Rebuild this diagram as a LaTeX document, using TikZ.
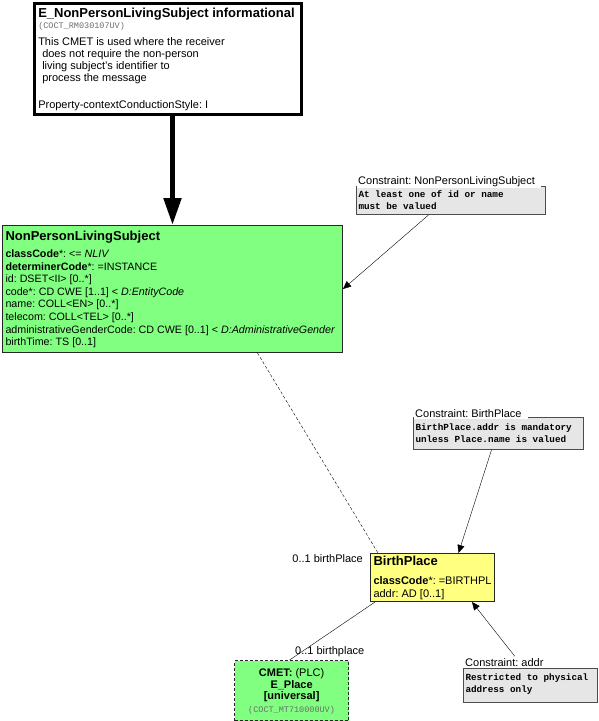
\documentclass[tikz,border=0pt]{standalone}
\usepackage{fontspec}
\setmainfont{Liberation Sans}
\setmonofont{Liberation Mono}
\usetikzlibrary{arrows.meta}
\AtBeginDocument{\frenchspacing}

\definecolor{rimgreen}{RGB}{128,255,128}
\definecolor{rimyellow}{RGB}{255,255,128}
\definecolor{notefill}{RGB}{230,230,230}
\definecolor{idgray}{RGB}{110,110,110}

\newcommand{\rimfont}{\fontsize{11}{12}\selectfont}
\newcommand{\rimhead}{\fontsize{13}{14}\selectfont\bfseries}
\newcommand{\rimid}[1]{{\color{idgray}\ttfamily\fontsize{8.5}{9}\selectfont #1}}
\newcommand{\notefont}{\ttfamily\bfseries\fontsize{9.3}{11.5}\selectfont}
\newcommand{\rimbody}[3]{\parbox[c][#2][t]{#1}{\parskip=0pt\frenchspacing #3}}

\tikzset{
  rimbox/.style={draw, anchor=north west, inner ysep=0pt},
  entrybox/.style={rimbox, line width=2.5pt, inner xsep=4pt},
  classbox/.style={rimbox, fill=rimgreen, draw=black!85, line width=1pt, inner xsep=3pt},
  placebox/.style={rimbox, fill=rimyellow, draw=black!85, line width=1pt, inner xsep=3pt},
  cmetbox/.style={rimbox, fill=rimgreen, draw=black!85, line width=1.2pt, dash pattern=on 3pt off 2pt, inner xsep=3pt},
  notebox/.style={rimbox, fill=notefill, draw=black!70, line width=1pt, inner xsep=2pt},
  notetitle/.style={anchor=base west, fill=white, inner xsep=1pt, inner ysep=1.5pt, font=\rimfont\frenchspacing},
  rolelabel/.style={inner sep=0pt, font=\rimfont},
  hint/.style={-{Triangle[width=7pt,length=8pt]}}
}

\begin{document}
\begin{tikzpicture}[x=1pt, y=-1pt]
    \useasboundingbox (0,0) rectangle (598,721);
    % classes
    \node[entrybox] (entry) at (33,2) {\rimbody{259pt}{111pt}{\raggedright\rimfont
        \vspace*{4.5pt}{\rimhead E\_NonPersonLivingSubject informational}\\[-1pt]
        \rimid{(COCT\_RM030107UV)}\\[5pt]
        This CMET is used where the receiver\\
        \hspace*{4pt}does not require the non-person\\
        \hspace*{4pt}living subject's identifier to\\
        \hspace*{4pt}process the message\\[15pt]
        Property-contextConductionStyle: I}};
    \node[classbox] (npls) at (2,225) {\rimbody{334pt}{127pt}{\raggedright\fontsize{10.7}{12.6}\selectfont
        \vspace*{5.5pt}{\rimhead NonPersonLivingSubject}\\[4.4pt]
        \textbf{classCode}*: <= \textit{NLIV}\\
        \textbf{determinerCode}*: =INSTANCE\\
        id: DSET<II> [0..*]\\
        code*: CD CWE [1..1] < \textit{D:EntityCode}\\
        name: COLL<EN> [0..*]\\
        telecom: COLL<TEL> [0..*]\\
        administrativeGenderCode: CD CWE [0..1] < \textit{D:AdministrativeGender}\\
        birthTime: TS [0..1]}};
    \node[placebox] (birthplace) at (370,553) {\rimbody{118pt}{48pt}{\raggedright\fontsize{11}{13}\selectfont
        \vspace*{2.5pt}{\rimhead BirthPlace}\\[6pt]
        \textbf{classCode}*: =BIRTHPL\\
        addr: AD [0..1]}};
    \node[cmetbox] (eplace) at (234,660) {\rimbody{108pt}{60pt}{\centering\rimfont
        \vspace*{8pt}\textbf{CMET:} (PLC)\\
        \textbf{E\_Place}\\[-1pt]
        \textbf{[universal]}\\[1pt]
        \rimid{(COCT\_MT710000UV)}}};
    % constraints
    \node[notebox] (npnote) at (356,186) {\rimbody{185pt}{28pt}{\raggedright\notefont
        \vspace*{4.6pt}At least one of id or name\\
        must be valued}};
    \node[notetitle] (nptitle) at ([xshift=1pt,yshift=2pt]npnote.north west) {Constraint: NonPersonLivingSubject\hspace*{5pt}};
    \node[notebox] (bpnote) at (413,417) {\rimbody{166pt}{32pt}{\raggedright\notefont
        \vspace*{6.6pt}BirthPlace.addr is mandatory\\
        unless Place.name is valued}};
    \node[notetitle] (bptitle) at ([xshift=1pt]bpnote.north west) {Constraint: BirthPlace\hspace*{5pt}};
    \node[notebox] (addrnote) at (463,668) {\rimbody{130pt}{34pt}{\raggedright\notefont
        \vspace*{5.6pt}Restricted to physical\\
        address only}};
    \node[notetitle] (addrtitle) at ([xshift=1pt,yshift=2pt]addrnote.north west) {Constraint: addr\hspace*{5pt}};
    % roles
    \node[rolelabel, anchor=east] (bprole) at ([xshift=-7pt,yshift=-6pt]birthplace.north west) {0..1 birthPlace};
    \node[rolelabel, anchor=west] (eprole) at ([xshift=61pt,yshift=8pt]eplace.north west) {0..1 birthplace};
    % links
    \draw[line width=5pt, -{Triangle[width=17pt,length=27pt]}] (entry.south -| npls.north) -- (npls.north);
    \draw[hint] ([xshift=-22.5pt]npnote.south) -- (npls.east);
    \draw[dash pattern=on 3pt off 2pt] ([xshift=85pt]npls.south) -- ([xshift=8pt]birthplace.north west);
    \draw[hint] ([xshift=-7pt]bpnote.south) -- ([xshift=26pt]birthplace.north);
    \draw ([xshift=5pt]birthplace.south west) -- ([xshift=-2pt]eplace.north);
    \draw[hint] ([xshift=8pt]addrtitle.north) -- ([xshift=-23pt]birthplace.south east);
\end{tikzpicture}
\end{document}
